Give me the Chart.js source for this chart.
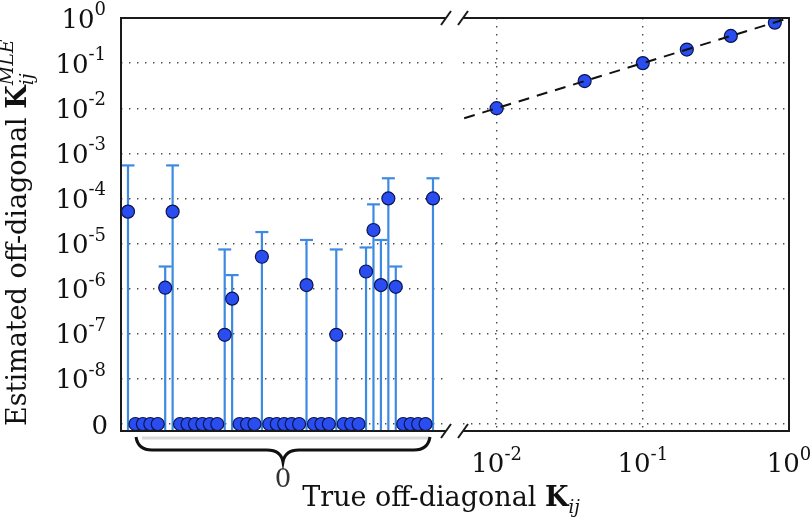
<!DOCTYPE html>
<html><head><meta charset="utf-8">
<script src="https://cdn.jsdelivr.net/npm/chart.js@4/dist/chart.umd.min.js"></script>
<style>
html,body{margin:0;padding:0;background:#fff;}
#wrap{position:relative;width:810px;height:518px;background:#fff;}
canvas{position:absolute;left:0;top:0;}
</style></head><body>
<div id="wrap"><canvas id="c1" width="810" height="518"></canvas><canvas id="c2" width="810" height="518"></canvas></div>
<script>
// ---------- DATA ----------
// Left panel: entries whose true value is 0 (index = position in group)
const zeroEst = [5.1e-5, 0, 0, 0, 0, 1.05e-6, 5.1e-5, 0, 0, 0, 0, 0, 0, 9.5e-8, 6e-7, 0, 0, 0, 5.1e-6,
  0, 0, 0, 0, 0, 1.2e-6, 0, 0, 0, 9.5e-8, 0, 0, 0, 2.4e-6, 2.0e-5, 1.2e-6, 1.0e-4, 1.1e-6, 0, 0, 0, 0, 1.0e-4];
const zeroErrUpper = [5.4e-4, 0, 0, 0, 0, 3.1e-6, 5.4e-4, 0, 0, 0, 0, 0, 0, 7.4e-6, 2.0e-6, 0, 0, 0, 1.8e-5,
  0, 0, 0, 0, 0, 1.2e-5, 0, 0, 0, 7.4e-6, 0, 0, 0, 8.2e-6, 7.4e-5, 1.2e-5, 2.8e-4, 3.1e-6, 0, 0, 0, 0, 2.8e-4];
// Right panel: nonzero true entries
const trueK = [0.01, 0.04, 0.1, 0.2, 0.4, 0.8];
const estK  = [0.01, 0.04, 0.1, 0.2, 0.4, 0.79];
const diagX = [0.006, 1];        // y = x reference line
// Ticks
const ZERO_POS = 1e-9;           // position of the "0" row on the log axis
const yTickValues = [1e-9, 1e-8, 1e-7, 1e-6, 1e-5, 1e-4, 1e-3, 1e-2, 1e-1, 1];
const yTickLabels = ["0", "10^-8", "10^-7", "10^-6", "10^-5", "10^-4", "10^-3", "10^-2", "10^-1", "10^0"];
const xTickValues = [0.01, 0.1, 1];
const xTickLabels = ["10^-2", "10^-1", "10^0"];
const braceLabel = "0";
const xTitle = ["True off-diagonal ", "K", "ij"];
const yTitle = ["Estimated off-diagonal ", "K", "ij", "MLE"];

// ---------- STYLE ----------
const FAM = '"DejaVu Serif", serif';
const YMIN = Math.pow(10, -9.144), YMAX = 1;
const MARK_FILL = '#2a4df0', MARK_EDGE = '#0b1450';
const ERR_COL = '#3d8ae2';
const FRAME = '#1a1a1a';

function fnt(sz, style){ return (style ? style + ' ' : '') + sz + 'px ' + FAM; }
function labelParts(s, big, small){
  const p = s.split('^');
  const parts = [{t:p[0], font:fnt(big)}];
  if (p.length > 1) parts.push({t:p[1], font:fnt(small), dy:-12.5});
  return parts;
}
function richWidth(ctx, parts){
  let w = 0, pend = 0;
  for (const p of parts){ ctx.font = p.font; const m = ctx.measureText(p.t).width;
    if (p.hold) pend = Math.max(pend, m); else { w += Math.max(m, pend); pend = 0; } }
  return w + pend;
}
function drawRich(ctx, parts, x, y){
  let cx = x, pend = 0;
  ctx.textAlign = 'left'; ctx.textBaseline = 'alphabetic';
  for (const p of parts){ ctx.font = p.font; const m = ctx.measureText(p.t).width;
    ctx.fillText(p.t, cx, y + (p.dy || 0));
    if (p.hold) pend = Math.max(pend, m); else { cx += Math.max(m, pend); pend = 0; } }
}
function slash(ctx, cx, cy){
  ctx.beginPath(); ctx.moveTo(cx - 5, cy + 7); ctx.lineTo(cx + 5, cy - 7); ctx.stroke();
}
const hideX = s => { s.height = 0; };
const hideY = s => { s.width = 0; };
const yScaleOpts = {
  type:'logarithmic', min:YMIN, max:YMAX, display:true,
  ticks:{display:false},
  grid:{color:'#4a4a4a', lineWidth:1.4, drawTicks:false},
  border:{display:false, dash:[1.4, 6.6]},
  afterBuildTicks: s => { s.ticks = yTickValues.filter(v => v < 1).map(v => ({value:v})); },
  afterFit: hideY
};

// ---------- LEFT PANEL ----------
const leftDeco = {
  id:'leftDeco',
  beforeDatasetsDraw(chart){
    const ctx = chart.ctx, xs = chart.scales.x, ys = chart.scales.y, a = chart.chartArea;
    ctx.save();
    ctx.strokeStyle = ERR_COL; ctx.lineWidth = 2.2;
    zeroErrUpper.forEach((u, i) => {
      if (u <= 0) return;
      const px = xs.getPixelForValue(i), py = ys.getPixelForValue(u);
      ctx.beginPath(); ctx.moveTo(px, a.bottom); ctx.lineTo(px, py); ctx.stroke();
      ctx.beginPath(); ctx.moveTo(px - 6.5, py); ctx.lineTo(px + 6.5, py); ctx.stroke();
    });
    ctx.restore();
  },
  afterDraw(chart){
    const ctx = chart.ctx, xs = chart.scales.x, ys = chart.scales.y, a = chart.chartArea;
    ctx.save();
    // frame
    ctx.strokeStyle = FRAME; ctx.lineWidth = 2;
    ctx.beginPath(); ctx.moveTo(a.right, a.top); ctx.lineTo(a.left, a.top); ctx.lineTo(a.left, a.bottom); ctx.lineTo(a.right, a.bottom); ctx.stroke();
    ctx.lineWidth = 2; slash(ctx, a.right, a.top); slash(ctx, a.right, a.bottom);
    // y tick labels
    ctx.fillStyle = '#111';
    yTickValues.forEach((v, i) => {
      const parts = labelParts(yTickLabels[i], 26, 18);
      const w = richWidth(ctx, parts);
      const py = ys.getPixelForValue(v);
      drawRich(ctx, parts, (parts.length > 1 ? 106 : 108) - w, py + 9.5);
    });
    // brace under the zero group
    const xl = xs.getPixelForValue(0) + 8, xr = xs.getPixelForValue(zeroEst.length - 1) - 3;
    const xc = (xl + xr) / 2, yt = a.bottom + 6, ym = a.bottom + 19, ytip = a.bottom + 31;
    ctx.strokeStyle = '#d9d9d9'; ctx.lineWidth = 3;
    ctx.beginPath(); ctx.moveTo(xl + 6, a.bottom + 7); ctx.lineTo(xr, a.bottom + 7); ctx.stroke();
    ctx.strokeStyle = '#111'; ctx.lineWidth = 3;
    ctx.beginPath();
    ctx.moveTo(xl, yt);
    ctx.quadraticCurveTo(xl + 2, ym, xl + 16, ym);
    ctx.lineTo(xc - 16, ym);
    ctx.quadraticCurveTo(xc - 2, ym, xc, ytip);
    ctx.quadraticCurveTo(xc + 2, ym, xc + 16, ym);
    ctx.lineTo(xr - 16, ym);
    ctx.quadraticCurveTo(xr - 2, ym, xr, yt);
    ctx.stroke();
    ctx.fillStyle = '#333'; ctx.font = fnt(26); ctx.textAlign = 'center'; ctx.textBaseline = 'alphabetic';
    ctx.fillText(braceLabel, xc, ytip + 25);
    // x title
    ctx.fillStyle = '#111';
    const xt = [{t:xTitle[0], font:fnt(27)}, {t:xTitle[1], font:fnt(27,'bold')}, {t:xTitle[2], font:fnt(18,'italic'), dy:7}];
    const wxt = richWidth(ctx, xt);
    drawRich(ctx, xt, 441 - wxt / 2, 506);
    // y title (rotated)
    const yt2 = [{t:yTitle[0], font:fnt(27)}, {t:yTitle[1], font:fnt(27,'bold')}, {t:yTitle[3], font:fnt(19,'italic'), dy:-13, hold:true}, {t:yTitle[2], font:fnt(19,'italic'), dy:7}];
    ctx.translate(26, 426); ctx.rotate(-Math.PI / 2);
    drawRich(ctx, yt2, 0, 0);
    ctx.restore();
  }
};

new Chart(document.getElementById('c1'), {
  type:'scatter',
  data:{datasets:[{
    data: zeroEst.map((v, i) => ({x:i, y: v > 0 ? v : ZERO_POS})),
    pointRadius:6.5, pointBackgroundColor:MARK_FILL, pointBorderColor:MARK_EDGE, pointBorderWidth:1.2, showLine:false
  }]},
  options:{
    responsive:false, devicePixelRatio:1, animation:false, events:[],
    layout:{padding:{left:121, right:810 - 446, top:18, bottom:518 - 431}},
    plugins:{legend:{display:false}, tooltip:{enabled:false}},
    scales:{
      x:{type:'linear', min:-0.94, max:42.75, display:true, ticks:{display:false}, grid:{display:false}, border:{display:false}, afterFit:hideX},
      y:yScaleOpts
    }
  },
  plugins:[leftDeco]
});

// ---------- RIGHT PANEL ----------
const rightDeco = {
  id:'rightDeco',
  afterDraw(chart){
    const ctx = chart.ctx, xs = chart.scales.x, a = chart.chartArea;
    ctx.save();
    ctx.strokeStyle = FRAME; ctx.lineWidth = 2;
    ctx.beginPath(); ctx.moveTo(a.left, a.top); ctx.lineTo(a.right, a.top); ctx.lineTo(a.right, a.bottom); ctx.lineTo(a.left, a.bottom); ctx.stroke();
    slash(ctx, a.left, a.top); slash(ctx, a.left, a.bottom);
    ctx.fillStyle = '#111';
    xTickValues.forEach((v, i) => {
      const parts = labelParts(xTickLabels[i], 26, 18);
      const w = richWidth(ctx, parts);
      drawRich(ctx, parts, xs.getPixelForValue(v) - w / 2, 472);
    });
    ctx.restore();
  }
};

new Chart(document.getElementById('c2'), {
  type:'scatter',
  data:{datasets:[
    {data: diagX.map(v => ({x:v, y:v})), showLine:true, borderColor:'#111', borderWidth:2, borderDash:[11, 8], pointRadius:0, fill:false},
    {data: trueK.map((v, i) => ({x:v, y:estK[i]})), showLine:false, pointRadius:6.5, pointBackgroundColor:MARK_FILL, pointBorderColor:MARK_EDGE, pointBorderWidth:1.2}
  ]},
  options:{
    responsive:false, devicePixelRatio:1, animation:false, events:[],
    layout:{padding:{left:463, right:810 - 789, top:18, bottom:518 - 431}},
    plugins:{legend:{display:false}, tooltip:{enabled:false}},
    scales:{
      x:{type:'logarithmic', min:Math.pow(10, -2.23), max:1, display:true, ticks:{display:false},
         grid:{color:'#4a4a4a', lineWidth:1.4, drawTicks:false}, border:{display:false, dash:[1.4, 6.6]},
         afterBuildTicks: s => { s.ticks = xTickValues.filter(v => v < 1).map(v => ({value:v})); },
         afterFit:hideX},
      y:Object.assign({}, yScaleOpts)
    }
  },
  plugins:[rightDeco]
});
</script>
</body></html>
